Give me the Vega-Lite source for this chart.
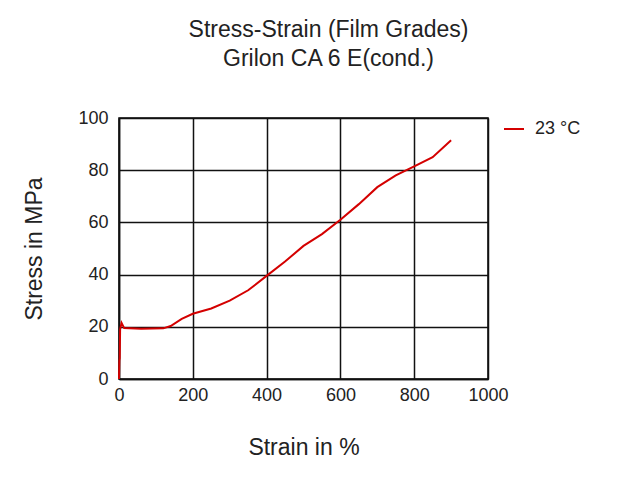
{
  "$schema": "https://vega.github.io/schema/vega-lite/v6.json",
  "width": 369,
  "height": 261,
  "autosize": {"type": "none"},
  "padding": {"left": 119, "top": 118, "right": 155, "bottom": 103},
  "background": "white",
  "title": {
    "text": ["Stress-Strain (Film Grades)", "Grilon CA 6 E(cond.)"],
    "font": "Liberation Sans",
    "fontSize": 23,
    "fontWeight": "normal",
    "color": "#222222",
    "anchor": "middle",
    "dx": 25,
    "offset": 38,
    "lineHeight": 29
  },
  "data": {
    "values": [
      {"strain": 0, "stress": 0, "series": "23 °C"},
      {"strain": 1, "stress": 7, "series": "23 °C"},
      {"strain": 2, "stress": 8, "series": "23 °C"},
      {"strain": 3, "stress": 19, "series": "23 °C"},
      {"strain": 7, "stress": 21.5, "series": "23 °C"},
      {"strain": 14, "stress": 19.5, "series": "23 °C"},
      {"strain": 60, "stress": 19.3, "series": "23 °C"},
      {"strain": 120, "stress": 19.4, "series": "23 °C"},
      {"strain": 140, "stress": 20.3, "series": "23 °C"},
      {"strain": 170, "stress": 23, "series": "23 °C"},
      {"strain": 200, "stress": 25, "series": "23 °C"},
      {"strain": 250, "stress": 27, "series": "23 °C"},
      {"strain": 300, "stress": 30, "series": "23 °C"},
      {"strain": 350, "stress": 34, "series": "23 °C"},
      {"strain": 400, "stress": 39.5, "series": "23 °C"},
      {"strain": 450, "stress": 45, "series": "23 °C"},
      {"strain": 500, "stress": 51, "series": "23 °C"},
      {"strain": 550, "stress": 55.5, "series": "23 °C"},
      {"strain": 600, "stress": 61, "series": "23 °C"},
      {"strain": 650, "stress": 67, "series": "23 °C"},
      {"strain": 700, "stress": 73.5, "series": "23 °C"},
      {"strain": 750, "stress": 78, "series": "23 °C"},
      {"strain": 800, "stress": 81.5, "series": "23 °C"},
      {"strain": 850, "stress": 85, "series": "23 °C"},
      {"strain": 900, "stress": 91.5, "series": "23 °C"}
    ]
  },
  "mark": {"type": "line", "strokeWidth": 2, "interpolate": "linear"},
  "encoding": {
    "x": {
      "field": "strain", "type": "quantitative",
      "scale": {"domain": [0, 1000], "nice": false},
      "axis": {"values": [0, 200, 400, 600, 800, 1000], "format": "d", "title": "Strain in %", "titlePadding": 32, "labelFlush": false}
    },
    "y": {
      "field": "stress", "type": "quantitative",
      "scale": {"domain": [0, 100], "nice": false},
      "axis": {"values": [0, 20, 40, 60, 80, 100], "format": "d", "title": "Stress in MPa", "titlePadding": 31, "labelPadding": 11, "labelFlush": false}
    },
    "color": {
      "field": "series", "type": "nominal",
      "scale": {"range": ["#d40000"]},
      "legend": {"title": null, "orient": "right", "offset": 15, "symbolType": "stroke", "symbolSize": 400, "symbolStrokeWidth": 2, "labelOffset": 10, "padding": 0}
    }
  },
  "config": {
    "view": {"stroke": "black", "strokeWidth": 1.5},
    "axis": {
      "labelFont": "Liberation Sans",
      "labelFontSize": 18,
      "labelColor": "#222222",
      "titleFont": "Liberation Sans",
      "titleFontSize": 23,
      "titleFontWeight": "normal",
      "titleColor": "#222222",
      "grid": true,
      "gridColor": "#111111",
      "gridWidth": 1.5,
      "gridOpacity": 1,
      "domainColor": "#111111",
      "domainWidth": 1.5,
      "ticks": false,
      "labelPadding": 7
    },
    "legend": {
      "labelFont": "Liberation Sans",
      "labelFontSize": 18,
      "labelColor": "#222222"
    }
  }
}
